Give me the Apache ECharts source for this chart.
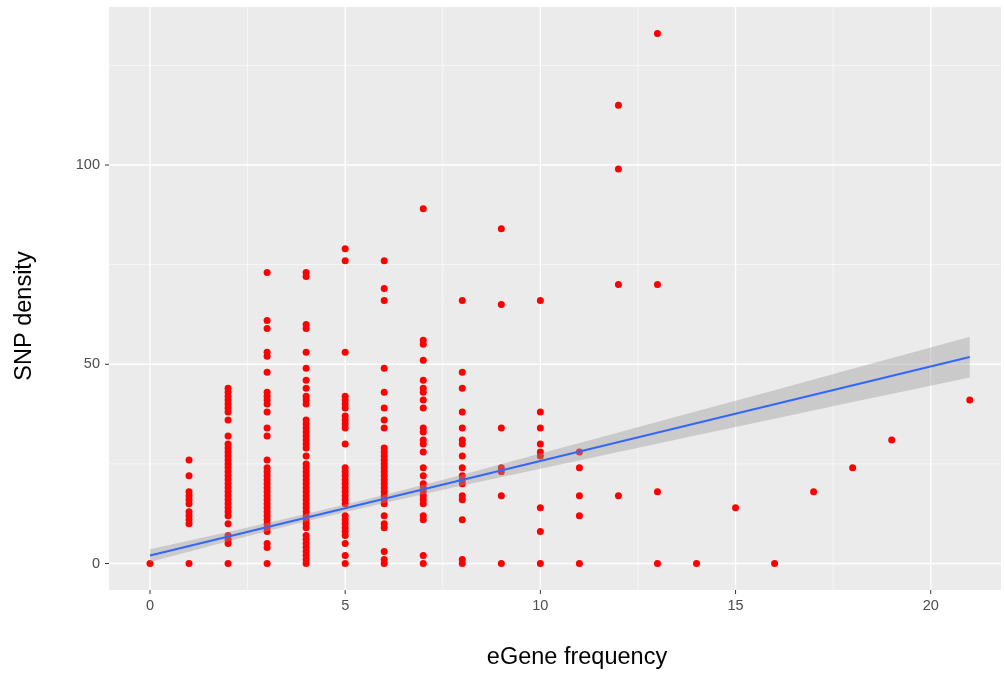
<!DOCTYPE html>
<html>
<head>
<meta charset="utf-8">
<script src="https://cdn.jsdelivr.net/npm/echarts@6/dist/echarts.min.js"></script>
<style>
html,body{margin:0;padding:0;background:#fff;}
#chart{width:1004px;height:675px;}
</style>
</head>
<body>
<div id="chart"></div>
<script>
// eGene frequency values that have points
const eGeneFreq = [0,1,2,3,4,5,6,7,8,9,10,11,12,13,14,15,16,17,18,19,21];
// SNP density per eGene frequency
const snpAt0  = [0];
const snpAt1  = [0,10,11,12,13,15,16,17,18,22,26];
const snpAt2  = [0,5,6,7,10,12,13,14,15,16,17,18,19,20,21,22,23,24,25,26,27,28,29,30,32,36,38,39,40,41,42,43,44];
const snpAt3  = [0,4,5,8,9,10,11,12,13,14,15,16,17,18,19,20,21,22,23,24,26,32,34,38,40,41,42,43,48,52,53,59,61,73];
const snpAt4  = [0,1,2,3,4,5,6,7,9,10,11,12,13,14,15,16,17,18,19,20,21,22,23,24,25,27,29,30,31,32,33,34,35,36,40,41,42,44,46,49,53,59,60,72,73];
const snpAt5  = [0,2,5,7,8,9,10,11,12,15,16,17,18,19,20,21,22,23,24,30,34,35,36,37,39,40,41,42,53,76,79];
const snpAt6  = [0,1,3,9,10,12,15,16,17,18,19,20,21,22,23,24,25,26,27,28,29,34,36,39,43,49,66,69,76];
const snpAt7  = [0,2,11,12,15,16,17,18,19,20,22,24,28,30,31,33,34,39,41,43,44,46,51,55,56,89];
const snpAt8  = [0,1,11,16,17,20,21,22,24,27,30,31,34,38,44,48,66];
const snpAt9  = [0,17,23,24,34,65,84];
const snpAt10 = [0,8,14,27,28,30,34,38,66];
const snpAt11 = [0,12,17,24,28];
const snpAt12 = [17,70,99,115];
const snpAt13 = [0,18,70,133];
const snpAt14 = [0];
const snpAt15 = [14];
const snpAt16 = [0];
const snpAt17 = [18];
const snpAt18 = [24];
const snpAt19 = [31];
const snpAt21 = [41];
const snpByFreq = [snpAt0,snpAt1,snpAt2,snpAt3,snpAt4,snpAt5,snpAt6,snpAt7,snpAt8,snpAt9,snpAt10,
  snpAt11,snpAt12,snpAt13,snpAt14,snpAt15,snpAt16,snpAt17,snpAt18,snpAt19,snpAt21];

// linear fit
const fitX = [0, 21];
const fitY = [2.0, 51.8];
// confidence band
const bandX     = [0,   2,   4,    6,    8,    10,   12,   14,   16,   18,   20,   21];
const bandLower = [0.4, 5.6, 10.6, 15.2, 19.6, 23.8, 28.0, 32.2, 36.3, 40.5, 44.6, 46.7];
const bandUpper = [3.6, 7.9, 12.4, 17.2, 22.3, 27.6, 32.9, 38.2, 43.5, 48.9, 54.2, 56.9];

// axis ticks
const xTicks = [0,5,10,15,20];
const xMinor = [2.5,7.5,12.5,17.5];
const yTicks = [0,50,100];
const yMinor = [25,75,125];

const points = [];
eGeneFreq.forEach((f, i) => snpByFreq[i].forEach(v => points.push([f, v])));

const chart = echarts.init(document.getElementById('chart'), null, {renderer: 'canvas'});

// gridline items: [x, y, width]
const vLines = xTicks.map(v => [v, 0, 1.3]).concat(xMinor.map(v => [v, 0, 0.6]));
const hLines = yTicks.map(v => [0, v, 1.3]).concat(yMinor.map(v => [0, v, 0.6]));
const xTickItems = xTicks.map(v => [v, 0]);
const yTickItems = yTicks.map(v => [0, v]);

const fontFam = '"Liberation Sans", Arial, sans-serif';

chart.setOption({
  animation: false,
  backgroundColor: '#FFFFFF',
  grid: {left: 109, right: 3, top: 7, bottom: 85, show: true, backgroundColor: '#EBEBEB', borderWidth: 0},
  xAxis: {
    type: 'value', min: -1.05, max: 21.8,
    axisLine: {show: false},
    splitLine: {show: false},
    axisTick: {show: false},
    axisLabel: {customValues: xTicks, margin: 8, color: '#4D4D4D', fontSize: 14.5, fontFamily: fontFam}
  },
  yAxis: {
    type: 'value', min: -6.65, max: 139.65,
    axisLine: {show: false},
    splitLine: {show: false},
    axisTick: {show: false},
    axisLabel: {customValues: yTicks, margin: 9, color: '#4D4D4D', fontSize: 14.5, fontFamily: fontFam}
  },
  graphic: [
    {type: 'text', x: 577, y: 658, style: {text: 'eGene frequency', fontSize: 23.5, fontFamily: fontFam, fill: '#000', textAlign: 'center', textVerticalAlign: 'middle'}},
    {type: 'text', rotation: Math.PI / 2, x: 25, y: 316, style: {text: 'SNP density', fontSize: 23.5, fontFamily: fontFam, fill: '#000', textAlign: 'center', textVerticalAlign: 'middle'}}
  ],
  series: [
    {
      type: 'custom', z: 1, silent: true, data: vLines, clip: true,
      renderItem: function (params, api) {
        const p = api.coord([api.value(0), api.value(1)]);
        const cs = params.coordSys;
        return {type: 'line', shape: {x1: p[0], y1: cs.y, x2: p[0], y2: cs.y + cs.height},
          style: {stroke: '#FFFFFF', lineWidth: api.value(2)}};
      }
    },
    {
      type: 'custom', z: 1, silent: true, data: hLines, clip: true,
      renderItem: function (params, api) {
        const p = api.coord([api.value(0), api.value(1)]);
        const cs = params.coordSys;
        return {type: 'line', shape: {x1: cs.x, y1: p[1], x2: cs.x + cs.width, y2: p[1]},
          style: {stroke: '#FFFFFF', lineWidth: api.value(2)}};
      }
    },
    {
      type: 'custom', z: 1, silent: true, data: xTickItems, clip: false,
      renderItem: function (params, api) {
        const p = api.coord([api.value(0), api.value(1)]);
        const cs = params.coordSys;
        const yb = cs.y + cs.height;
        return {type: 'line', shape: {x1: p[0], y1: yb, x2: p[0], y2: yb + 4},
          style: {stroke: '#333333', lineWidth: 1}};
      }
    },
    {
      type: 'custom', z: 1, silent: true, data: yTickItems, clip: false,
      renderItem: function (params, api) {
        const p = api.coord([api.value(0), api.value(1)]);
        const cs = params.coordSys;
        return {type: 'line', shape: {x1: cs.x - 4, y1: p[1], x2: cs.x, y2: p[1]},
          style: {stroke: '#333333', lineWidth: 1}};
      }
    },
    {
      type: 'scatter', z: 2, data: points, symbol: 'circle', symbolSize: 7,
      itemStyle: {color: '#FF0000', opacity: 1}
    },
    {
      type: 'custom', z: 3, silent: true,
      data: [[bandX[0], bandLower[0]]],
      renderItem: function (params, api) {
        const pts = [];
        for (let i = 0; i < bandX.length; i++) pts.push(api.coord([bandX[i], bandUpper[i]]));
        for (let i = bandX.length - 1; i >= 0; i--) pts.push(api.coord([bandX[i], bandLower[i]]));
        return {type: 'polygon', shape: {points: pts}, style: {fill: 'rgba(153,153,153,0.4)', stroke: null}};
      }
    },
    {
      type: 'line', z: 4, silent: true, symbol: 'none',
      data: fitX.map((x, i) => [x, fitY[i]]),
      lineStyle: {color: '#3366FF', width: 2}
    }
  ]
});
</script>
</body>
</html>
